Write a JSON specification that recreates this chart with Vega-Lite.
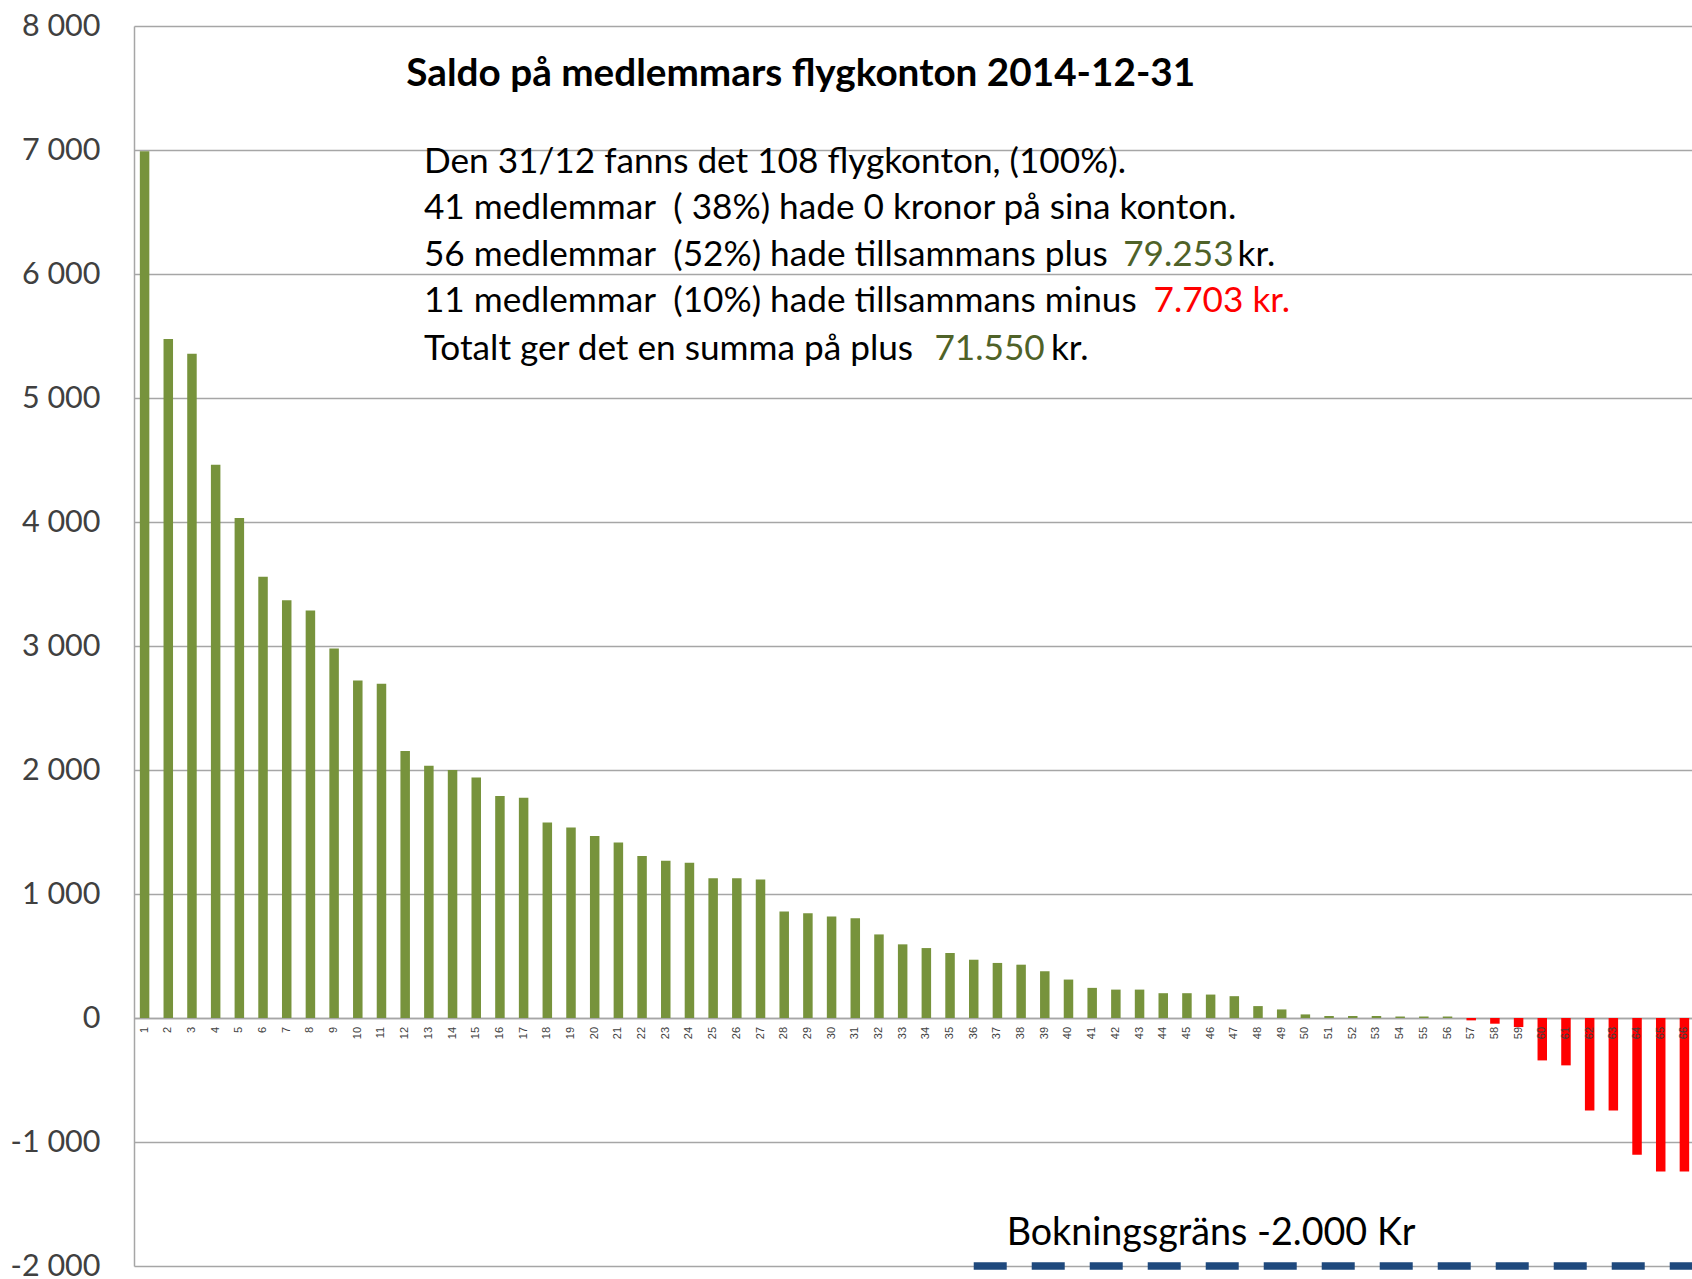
{
  "$schema": "https://vega.github.io/schema/vega-lite/v6.json",
  "width": 1558,
  "height": 1240,
  "autosize": {"type": "none"},
  "padding": {"left": 134, "top": 26, "right": 0, "bottom": 13},
  "background": "#ffffff",
  "config": {"view": {"stroke": null}, "font": "Lato"},
  "data": {"values": [
    {"konto": 1, "saldo": 6990}, {"konto": 2, "saldo": 5475}, {"konto": 3, "saldo": 5356},
    {"konto": 4, "saldo": 4461}, {"konto": 5, "saldo": 4032}, {"konto": 6, "saldo": 3558},
    {"konto": 7, "saldo": 3368}, {"konto": 8, "saldo": 3287}, {"konto": 9, "saldo": 2979},
    {"konto": 10, "saldo": 2722}, {"konto": 11, "saldo": 2695}, {"konto": 12, "saldo": 2153},
    {"konto": 13, "saldo": 2035}, {"konto": 14, "saldo": 2000}, {"konto": 15, "saldo": 1940},
    {"konto": 16, "saldo": 1790}, {"konto": 17, "saldo": 1777}, {"konto": 18, "saldo": 1577},
    {"konto": 19, "saldo": 1537}, {"konto": 20, "saldo": 1468}, {"konto": 21, "saldo": 1416},
    {"konto": 22, "saldo": 1306}, {"konto": 23, "saldo": 1268}, {"konto": 24, "saldo": 1252},
    {"konto": 25, "saldo": 1127}, {"konto": 26, "saldo": 1127}, {"konto": 27, "saldo": 1116},
    {"konto": 28, "saldo": 858}, {"konto": 29, "saldo": 844}, {"konto": 30, "saldo": 818},
    {"konto": 31, "saldo": 805}, {"konto": 32, "saldo": 674}, {"konto": 33, "saldo": 594},
    {"konto": 34, "saldo": 564}, {"konto": 35, "saldo": 524}, {"konto": 36, "saldo": 470},
    {"konto": 37, "saldo": 444}, {"konto": 38, "saldo": 430}, {"konto": 39, "saldo": 377},
    {"konto": 40, "saldo": 310}, {"konto": 41, "saldo": 243}, {"konto": 42, "saldo": 229},
    {"konto": 43, "saldo": 229}, {"konto": 44, "saldo": 200}, {"konto": 45, "saldo": 200},
    {"konto": 46, "saldo": 189}, {"konto": 47, "saldo": 176}, {"konto": 48, "saldo": 96},
    {"konto": 49, "saldo": 69}, {"konto": 50, "saldo": 29}, {"konto": 51, "saldo": 16},
    {"konto": 52, "saldo": 16}, {"konto": 53, "saldo": 16}, {"konto": 54, "saldo": 12},
    {"konto": 55, "saldo": 12}, {"konto": 56, "saldo": 12}, {"konto": 57, "saldo": -19},
    {"konto": 58, "saldo": -46}, {"konto": 59, "saldo": -73}, {"konto": 60, "saldo": -342},
    {"konto": 61, "saldo": -382}, {"konto": 62, "saldo": -746}, {"konto": 63, "saldo": -746},
    {"konto": 64, "saldo": -1102}, {"konto": 65, "saldo": -1237}, {"konto": 66, "saldo": -1237},
    {"konto": 67, "saldo": -1773}
  ]},
  "layer": [
    {
      "mark": {"type": "bar", "width": 9.5},
      "encoding": {
        "x": {
          "field": "konto", "type": "quantitative",
          "scale": {"domain": [0.553, 66.32], "nice": false, "zero": false, "padding": 0},
          "axis": {
            "title": null,
            "offset": -248,
            "labels": false,
            "ticks": false,
            "grid": false,
            "domainColor": "#A6A6A6",
            "domainWidth": 1.5
          }
        },
        "y": {
          "field": "saldo", "type": "quantitative",
          "scale": {"domain": [-2000, 8000], "nice": false},
          "axis": {
            "title": null,
            "values": [-2000, -1000, 0, 1000, 2000, 3000, 4000, 5000, 6000, 7000, 8000],
            "labelExpr": "datum.value == 0 ? '0' : (datum.value < 0 ? '-' : '') + format(abs(datum.value) / 1000, 'd') + ' 000'",
            "labelFont": "Lato",
            "labelFontSize": 30.5,
            "labelColor": "#404040",
            "labelPadding": 34,
            "ticks": false,
            "grid": true,
            "gridColor": "#A6A6A6",
            "gridWidth": 1.5,
            "domainColor": "#A6A6A6",
            "domainWidth": 1.5
          }
        },
        "color": {
          "condition": {"test": "datum.saldo < 0", "value": "#FF0000"},
          "value": "#77933C"
        }
      }
    },
    {
      "mark": {"type": "text", "angle": 270, "align": "right", "baseline": "middle", "font": "Liberation Sans", "fontSize": 11, "color": "#404040"},
      "encoding": {
        "x": {"field": "konto", "type": "quantitative"},
        "y": {"datum": -72, "type": "quantitative"},
        "text": {"field": "konto", "type": "nominal"}
      }
    },
    {
      "data": {"values": [{}]},
      "mark": {"type": "rule", "color": "#1F497D", "strokeWidth": 7.5, "strokeDash": [33, 25]},
      "encoding": {
        "x": {"datum": 36, "type": "quantitative"},
        "x2": {"datum": 67},
        "y": {"datum": -2000, "type": "quantitative"}
      }
    },
    {
      "data": {"values": [{}]},
      "mark": {"type": "text", "text": "Saldo på medlemmars flygkonton 2014-12-31", "font": "Lato", "fontWeight": "bold", "fontSize": 38.7, "align": "center", "baseline": "middle", "color": "#000000"},
      "encoding": {"x": {"datum": 28.70, "type": "quantitative"}, "y": {"datum": 7612, "type": "quantitative"}}
    },
    {
      "data": {"values": [{}]},
      "mark": {"type": "text", "text": "Den 31/12 fanns det 108 flygkonton, (100%).", "font": "Lato", "fontSize": 35.2, "align": "left", "baseline": "middle", "color": "#000000"},
      "encoding": {"x": {"datum": 12.79, "type": "quantitative"}, "y": {"datum": 6905, "type": "quantitative"}}
    },
    {
      "data": {"values": [{}]},
      "mark": {"type": "text", "text": "41 medlemmar\u00a0 ( 38%) hade 0 kronor på sina konton.", "font": "Lato", "fontSize": 35.2, "align": "left", "baseline": "middle", "color": "#000000"},
      "encoding": {"x": {"datum": 12.79, "type": "quantitative"}, "y": {"datum": 6531, "type": "quantitative"}}
    },
    {
      "data": {"values": [{}]},
      "mark": {"type": "text", "text": "56 medlemmar\u00a0 (52%) hade tillsammans plus", "font": "Lato", "fontSize": 35.2, "align": "left", "baseline": "middle", "color": "#000000"},
      "encoding": {"x": {"datum": 12.79, "type": "quantitative"}, "y": {"datum": 6156, "type": "quantitative"}}
    },
    {
      "data": {"values": [{}]},
      "mark": {"type": "text", "text": "79.253", "font": "Lato", "fontSize": 35.2, "align": "left", "baseline": "middle", "color": "#4F6228"},
      "encoding": {"x": {"datum": 42.309, "type": "quantitative"}, "y": {"datum": 6156, "type": "quantitative"}}
    },
    {
      "data": {"values": [{}]},
      "mark": {"type": "text", "text": "kr.", "font": "Lato", "fontSize": 35.2, "align": "left", "baseline": "middle", "color": "#000000"},
      "encoding": {"x": {"datum": 47.138, "type": "quantitative"}, "y": {"datum": 6156, "type": "quantitative"}}
    },
    {
      "data": {"values": [{}]},
      "mark": {"type": "text", "text": "11 medlemmar\u00a0 (10%) hade tillsammans minus", "font": "Lato", "fontSize": 35.2, "align": "left", "baseline": "middle", "color": "#000000"},
      "encoding": {"x": {"datum": 12.79, "type": "quantitative"}, "y": {"datum": 5782, "type": "quantitative"}}
    },
    {
      "data": {"values": [{}]},
      "mark": {"type": "text", "text": "7.703 kr.", "font": "Lato", "fontSize": 35.2, "align": "left", "baseline": "middle", "color": "#FF0000"},
      "encoding": {"x": {"datum": 43.588, "type": "quantitative"}, "y": {"datum": 5782, "type": "quantitative"}}
    },
    {
      "data": {"values": [{}]},
      "mark": {"type": "text", "text": "Totalt ger det en summa på plus", "font": "Lato", "fontSize": 35.2, "align": "left", "baseline": "middle", "color": "#000000"},
      "encoding": {"x": {"datum": 12.79, "type": "quantitative"}, "y": {"datum": 5392, "type": "quantitative"}}
    },
    {
      "data": {"values": [{}]},
      "mark": {"type": "text", "text": "71.550", "font": "Lato", "fontSize": 35.2, "align": "left", "baseline": "middle", "color": "#4F6228"},
      "encoding": {"x": {"datum": 34.339, "type": "quantitative"}, "y": {"datum": 5392, "type": "quantitative"}}
    },
    {
      "data": {"values": [{}]},
      "mark": {"type": "text", "text": "kr.", "font": "Lato", "fontSize": 35.2, "align": "left", "baseline": "middle", "color": "#000000"},
      "encoding": {"x": {"datum": 39.261, "type": "quantitative"}, "y": {"datum": 5392, "type": "quantitative"}}
    },
    {
      "data": {"values": [{}]},
      "mark": {"type": "text", "text": "Bokningsgräns -2.000 Kr", "font": "Lato", "fontSize": 37.7, "align": "left", "baseline": "middle", "color": "#000000"},
      "encoding": {"x": {"datum": 37.39, "type": "quantitative"}, "y": {"datum": -1744, "type": "quantitative"}}
    }
  ]
}
